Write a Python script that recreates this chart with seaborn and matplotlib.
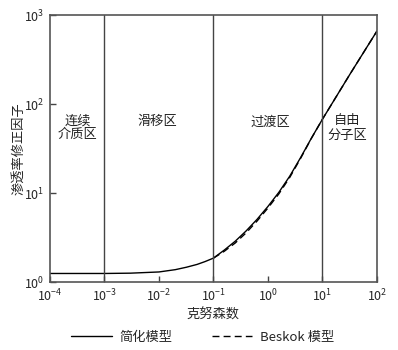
import matplotlib
matplotlib.use("Agg")
import matplotlib.pyplot as plt
import numpy as np
import pandas as pd
import seaborn as sns

# simplified model curve
kn_simple = [1e-4, 1e-3, 3e-3, 1e-2, 2e-2, 3.2e-2, 5e-2, 7e-2, 0.1, 0.158, 0.251, 0.398,
             0.631, 1.0, 1.585, 2.512, 3.98, 6.31, 10.0, 31.6, 100.0]
k_simple = [1.25, 1.25, 1.26, 1.30, 1.38, 1.47, 1.58, 1.70, 1.86, 2.29, 2.88, 3.76,
            5.07, 7.08, 10.2, 15.5, 25.1, 41.7, 67.6, 214.0, 661.0]

# Beskok model curve
kn_beskok = [0.1, 0.158, 0.251, 0.398, 0.631, 1.0, 1.585, 2.512, 3.98, 6.31, 10.0, 31.6, 100.0]
k_beskok = [1.86, 2.22, 2.75, 3.58, 4.85, 6.8, 9.8, 15.0, 24.6, 41.5, 67.6, 214.0, 661.0]

# flow regime boundaries and labels
regime_bounds = [1e-3, 1e-1, 1e1]
regime_names = ["连续\n介质区", "滑移区", "过渡区", "自由\n分子区"]
regime_x = [3.2e-4, 9.5e-3, 1.1, 2.8e1]
regime_y = [54, 63, 63, 54]

legend_names = ["简化模型", "Beskok 模型"]

sns.set_style("ticks")
cjk = ["Noto Sans CJK SC", "DejaVu Sans"]
plt.rcParams["font.family"] = cjk
plt.rcParams["mathtext.fontset"] = "custom"
plt.rcParams["mathtext.rm"] = "Liberation Serif"
plt.rcParams["mathtext.it"] = "Liberation Serif:italic"

df = pd.concat([
    pd.DataFrame({"kn": kn_simple, "k": k_simple, "model": legend_names[0]}),
    pd.DataFrame({"kn": kn_beskok, "k": k_beskok, "model": legend_names[1]}),
])

fig = plt.figure(figsize=(3.98, 3.5), dpi=100)
ax = fig.add_axes([0.1256, 0.194, 0.8215, 0.763])

sns.lineplot(data=df, x="kn", y="k", hue="model", style="model",
             palette=["black", "black"], dashes=[(None, None), (5, 3)],
             linewidth=1.0, ax=ax, legend=False, sort=False)

ax.set_xscale("log")
ax.set_yscale("log")
ax.set_xlim(1e-4, 1e2)
ax.set_ylim(1, 1e3)

for b in regime_bounds:
    ax.axvline(b, color="#444444", lw=1.0)
for name, x, y in zip(regime_names, regime_x, regime_y):
    ax.text(x, y, name, ha="center", va="center", fontsize=9.5, color="#222222",
            linespacing=1.1)

ax.set_xticks([1e-4, 1e-3, 1e-2, 1e-1, 1e0, 1e1, 1e2])
ax.set_yticks([1e0, 1e1, 1e2, 1e3])
ax.minorticks_off()
ax.tick_params(direction="in", length=4, width=1.0, color="#444444",
               labelsize=9, pad=4)
for s in ax.spines.values():
    s.set_visible(True)
    s.set_color("#555555")
    s.set_linewidth(1.2)

ax.set_xlabel("克努森数", fontsize=9.5, labelpad=3)
ax.set_ylabel("渗透率修正因子", fontsize=9.5)
ax.yaxis.set_label_coords(-0.075, 0.5)

handles = [plt.Line2D([], [], color="black", lw=1.0),
           plt.Line2D([], [], color="black", lw=1.0, dashes=(5, 3))]
fig.legend(handles, legend_names, loc="center", bbox_to_anchor=(0.51, 0.037),
           ncol=2, frameon=False, fontsize=9.5, handlelength=3.05,
           columnspacing=3.0, handletextpad=0.6)

fig.savefig("out.png", dpi=100)
